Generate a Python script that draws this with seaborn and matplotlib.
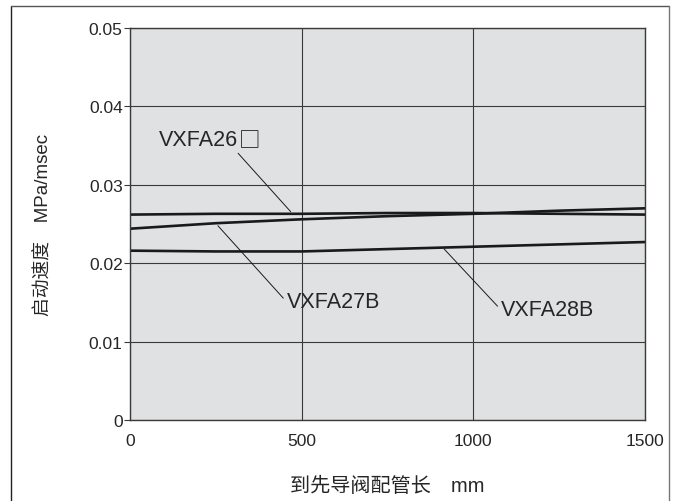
import matplotlib
matplotlib.use("Agg")
import matplotlib.pyplot as plt
import seaborn as sns
import pandas as pd
from matplotlib.lines import Line2D

# ---- data ----
pipe_length = [0, 250, 500, 750, 1000, 1250, 1500]
vxfa26 = [0.0262, 0.0263, 0.0263, 0.0264, 0.0264, 0.0263, 0.0262]
vxfa27b = [0.0244, 0.0251, 0.0256, 0.0260, 0.0263, 0.0267, 0.0270]
vxfa28b = [0.0216, 0.0215, 0.0215, 0.0218, 0.0221, 0.0224, 0.0227]
series_names = ["VXFA26□", "VXFA27B", "VXFA28B"]
x_ticks = [0, 500, 1000, 1500]
y_ticks = [0, 0.01, 0.02, 0.03, 0.04, 0.05]
y_tick_labels = ["0", "0.01", "0.02", "0.03", "0.04", "0.05"]
x_label = "到先导阀配管长\u3000mm"
y_label = "启动速度\u3000MPa/msec"

df = pd.DataFrame({
    "x": pipe_length * 3,
    "y": vxfa26 + vxfa27b + vxfa28b,
    "series": [series_names[0]] * 7 + [series_names[1]] * 7 + [series_names[2]] * 7,
})

sns.set_style("white", {"axes.facecolor": "#e0e1e3"})
plt.rcParams["font.family"] = ["Liberation Sans", "Noto Sans CJK SC", "DejaVu Sans"]

fig = plt.figure(figsize=(6.77, 5.02), dpi=100)
ax = fig.add_axes([130 / 677, 1 - 421 / 502, 515 / 677, 392 / 502])

sns.lineplot(data=df, x="x", y="y", hue="series",
             palette=["#1a1a1a"] * 3, linewidth=1.9, legend=False, ax=ax)

ax.set_xlim(0, 1500)
ax.set_ylim(0, 0.05)
ax.set_xticks(x_ticks)
ax.set_xticklabels([str(t) for t in x_ticks])
ax.set_yticks(y_ticks)
ax.set_yticklabels(y_tick_labels)
ax.grid(True, color="#3a3a3a", linewidth=0.8)
ax.set_axisbelow(True)
for s in ax.spines.values():
    s.set_color("#3a3a3a")
    s.set_linewidth(1.0)
ax.tick_params(axis="y", length=4.5, width=0.8, color="#3a3a3a", labelsize=12.5,
               pad=0.8, direction="out", left=True)
ax.tick_params(axis="x", length=0, labelsize=12.5, pad=9)
ax.set_xlabel(x_label, fontsize=14.5)
ax.set_ylabel(y_label, fontsize=13.5)
ax.xaxis.set_label_coords(0.5, -0.143)
ax.yaxis.set_label_coords(-0.150, 0.5)

# annotations with leader lines
name26, box = series_names[0][:-1], series_names[0][-1]
ax.annotate(name26, xy=(468, 0.02657), xytext=(85, 0.03578),
            fontsize=15.5, va="center", ha="left",
            arrowprops=dict(arrowstyle="-", color="#1a1a1a", lw=0.7,
                            shrinkA=0, shrinkB=0, relpos=(0.96, 0.0)))
ax.text(316, 0.03575, box, va="center", ha="left", fontsize=15.5,
        family=["Noto Sans CJK SC", "DejaVu Sans"], color="#1a1a1a")
ax.annotate(series_names[1], xy=(256, 0.02478), xytext=(456, 0.01508),
            fontsize=15.5, va="center", ha="left",
            arrowprops=dict(arrowstyle="-", color="#1a1a1a", lw=0.7,
                            shrinkA=0, shrinkB=0, relpos=(0.0, 0.5)))
ax.annotate(series_names[2], xy=(915, 0.02181), xytext=(1080, 0.01407),
            fontsize=15.5, va="center", ha="left",
            arrowprops=dict(arrowstyle="-", color="#1a1a1a", lw=0.7,
                            shrinkA=0, shrinkB=0, relpos=(0.0, 0.5)))

# outer frame
l, r, t = 11 / 677, 669 / 677, 1 - 7 / 502
fig.add_artist(Line2D([l, l], [0, t], transform=fig.transFigure, color="#222222", lw=1.0))
fig.add_artist(Line2D([l, r], [t, t], transform=fig.transFigure, color="#555555", lw=1.0))
fig.add_artist(Line2D([r, r], [0, t], transform=fig.transFigure, color="#777777", lw=1.0))

fig.savefig("out.png", dpi=100)
